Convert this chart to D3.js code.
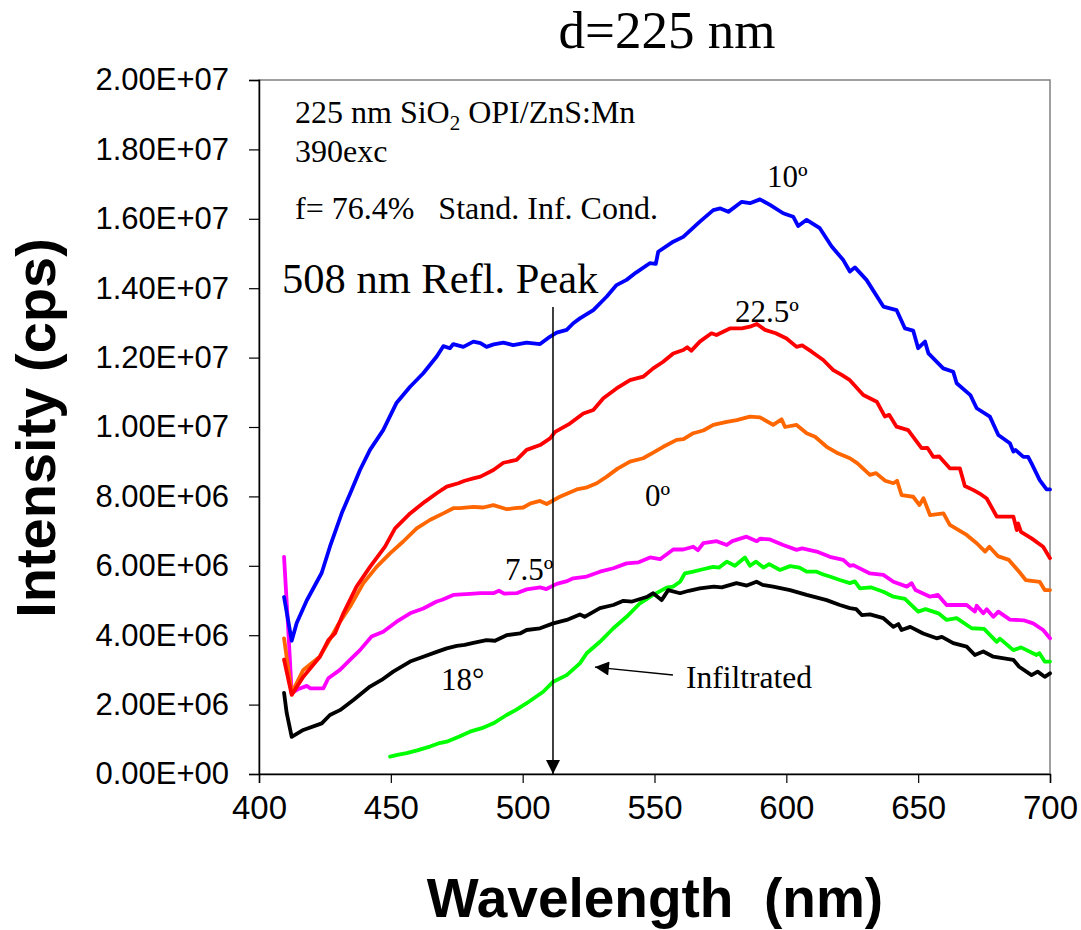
<!DOCTYPE html>
<html>
<head>
<meta charset="utf-8">
<script src="https://cdnjs.cloudflare.com/ajax/libs/d3/7.8.5/d3.min.js"></script>
<style>
  body { margin: 0; background: #fff; }
  .tick text { font-family: "Liberation Sans", Arial, sans-serif; fill: #000; }
  .serif { font-family: "Liberation Serif", "Times New Roman", serif; fill: #000; }
  .title { font-family: "Liberation Sans", Arial, sans-serif; font-weight: bold; fill: #000; }
</style>
</head>
<body>
<div id="chart"></div>
<script>
// x = wavelength (nm), y = intensity in units of 1e6 cps
var blueX  = [409.5,412.4,414.3,418.1,423.8,426.9,431.4,435.1,438.3,442.1,447.1,452.2,457.3,462.3,467.4,469.9,472.4,473.7,477.5,481.3,484,486.3,489,492.7,496.4,501.5,506.6,510.3,512.9,516.7,519.2,521.7,526.8,531.9,535.6,539.4,543,548.2,550.5,551.4,557.1,560.9,567.2,572.3,575,578,583.1,586.2,590,593.8,598.8,602.6,604.5,607.7,612.7,617.2,621.6,624.1,626,630.4,636.8,641.8,645,648.1,650,652.6,653.9,659.5,663.3,664.6,669.8,672.2,677.2,680.4,684.8,686.1,686.9,689.9,691.7,693,696.1,698.7,700];
var blueY  = [5.1,3.84,4.35,5.0,5.8,6.55,7.52,8.18,8.76,9.34,9.91,10.7,11.16,11.55,12.03,12.33,12.27,12.39,12.31,12.46,12.42,12.31,12.38,12.43,12.36,12.43,12.39,12.6,12.72,12.8,12.99,13.13,13.37,13.76,14.09,14.24,14.45,14.72,14.7,15.05,15.34,15.48,15.92,16.25,16.3,16.2,16.49,16.45,16.56,16.4,16.16,16.06,15.79,15.97,15.73,15.2,14.81,14.48,14.6,14.24,13.47,13.37,12.84,12.78,12.27,12.46,12.12,11.69,11.59,11.26,10.92,10.54,10.3,9.77,9.53,9.29,9.34,9.14,9.14,8.95,8.47,8.2,8.2];

var redX   = [409.5,412.4,416.8,423.1,426.3,428.8,432,437,442.1,447.8,451.6,457.3,463,467.4,471.2,475.6,478,481.3,484,488.9,492.7,497.7,501.5,506.6,510.4,512.3,517.9,523,526.8,530.6,535.6,540.7,545.7,549.5,553.3,557.1,560.9,562.4,564,567.2,571.6,573.5,578.6,583.1,586.2,588.8,591.9,596,600.1,603.9,606,609.6,614,617.8,621,624.1,629.2,634.3,637.4,639,641.8,646.2,651.3,653.5,655.7,658,662,665.8,667.7,671,674,676,679.8,686.1,687.4,687.9,689,693,697.4,700];
var redY   = [3.3,2.28,2.8,3.38,3.86,4.05,4.63,5.4,5.97,6.55,7.08,7.51,7.85,8.09,8.28,8.38,8.45,8.52,8.57,8.76,8.97,9.05,9.34,9.48,9.67,9.86,10.1,10.39,10.49,10.83,11.11,11.35,11.45,11.69,11.88,12.12,12.22,12.3,12.2,12.46,12.7,12.65,12.84,12.84,12.89,12.97,12.8,12.7,12.55,12.31,12.35,12.17,11.93,11.64,11.5,11.35,10.92,10.73,10.3,10.35,10.01,9.91,9.39,9.4,9.14,9.15,8.81,8.81,8.3,8.18,8.05,7.94,7.42,7.42,7.03,7.22,6.98,6.79,6.55,6.22];

var orangeX = [409.5,412.4,416.8,423,426.3,430,434.5,439.6,444.6,449.7,454.7,459.8,464.8,469.9,473.7,476.2,481.3,485,488.9,494,497,500.2,503,506.6,509.1,514.1,520.5,524,528.1,531.9,536,540.7,545.7,549.5,553.3,558.4,561,564.7,568.5,572.3,577.4,581.2,586.2,590,595,598.2,599.5,603.9,607.7,610.9,615.3,619.1,624.1,627,631.7,634,637.5,640.6,642,643.7,648.1,650.5,652,654.5,659.6,662,668.4,672.2,675.4,677,680.2,684.4,688.3,690.8,696.1,698,700];
var orangeY = [3.91,2.33,3.0,3.38,3.8,4.3,4.82,5.5,5.97,6.36,6.7,7.08,7.32,7.51,7.66,7.66,7.7,7.68,7.75,7.63,7.66,7.68,7.8,7.87,7.78,7.99,8.2,8.25,8.38,8.57,8.8,9.0,9.1,9.26,9.43,9.63,9.65,9.82,9.9,10.06,10.15,10.2,10.3,10.28,10.06,10.22,10.0,10.06,9.82,9.72,9.43,9.26,9.1,8.95,8.62,8.67,8.45,8.38,8.45,8.04,7.99,7.75,7.95,7.46,7.51,7.18,6.89,6.65,6.41,6.55,6.28,6.17,5.83,5.59,5.54,5.3,5.3];

var magentaX = [409.5,411,412.4,415,418.1,419.5,424.4,426.3,430.7,434.5,438.3,442.7,447.1,452.2,457.3,462.3,467.4,469.5,473.7,480,484,488.9,491,493,497.7,501.5,506.6,509,512.9,516.5,519.2,524.3,529.3,534.4,539.4,544,548.3,552.1,557.1,560.9,564.7,566.5,568.5,573.6,577.4,579.5,584.9,588.8,590,593.8,598.8,603.9,606,611.5,616.5,621.6,624.1,625.4,631.7,636.8,640.6,645.7,647.5,649,654.5,657.5,660.8,668.4,671.5,672.2,674.7,676,678.5,680.4,684.8,690,693.6,697.4,700];
var magentaY = [6.26,4.3,2.33,2.45,2.54,2.47,2.47,2.76,3.0,3.29,3.57,3.96,4.1,4.39,4.63,4.77,4.97,5.02,5.16,5.19,5.21,5.21,5.28,5.2,5.21,5.32,5.38,5.33,5.48,5.55,5.64,5.69,5.83,5.93,6.07,6.1,6.24,6.19,6.47,6.47,6.55,6.45,6.65,6.71,6.6,6.71,6.84,6.71,6.78,6.76,6.6,6.46,6.5,6.41,6.26,6.17,6.0,6.02,5.78,5.74,5.54,5.4,5.5,5.3,5.11,5.16,4.87,4.87,4.68,4.85,4.63,4.75,4.53,4.68,4.45,4.43,4.34,4.15,3.91];

var blackX = [409.5,410.5,412.4,416.8,423.8,426.9,430.7,435.8,442.1,446.5,450.9,457.3,462.3,467.4,471.2,475,478,481.3,486.3,489.5,493.9,499,501.5,506.6,511.6,516.7,521.7,523.5,529.3,534.4,538.2,541.5,547,549.5,552.7,555.2,559.7,563,567.2,572.5,575.5,581.1,585,588.7,591,595,601.4,607.7,615.3,620.3,624.1,626.5,628.6,631.7,636.8,640.6,642.5,643.7,647,651.9,657,659,663.3,668.4,671.5,674.7,678.5,686.1,688.3,693,695.3,698,700];
var blackY = [2.34,1.76,1.07,1.27,1.46,1.7,1.84,2.13,2.52,2.71,2.95,3.24,3.38,3.52,3.62,3.69,3.72,3.78,3.86,3.84,4.0,4.05,4.15,4.2,4.34,4.44,4.6,4.53,4.78,4.87,4.99,4.97,5.1,5.21,5.01,5.3,5.21,5.28,5.35,5.4,5.38,5.5,5.43,5.54,5.45,5.4,5.3,5.16,5.01,4.87,4.78,4.75,4.58,4.6,4.49,4.24,4.32,4.15,4.24,4.05,3.91,3.95,3.77,3.67,3.43,3.53,3.38,3.29,3.09,2.85,2.95,2.8,2.9];

var greenX = [449.7,452.5,456,460,464.8,468,471.2,476,480,484.5,488.9,493.9,497.5,501.5,507.8,511.6,516.7,521.7,524.3,529.3,534.4,539.4,544.5,549.5,554.6,557,559.7,561.5,564.7,567.2,571,572.3,574.5,577.4,580.5,584.3,586.2,588.5,591.3,593.5,597.6,601.4,605,607.7,611.5,614,616.5,620.3,624.1,626,627.9,632,636.8,640.6,645,650,652.8,657.7,660.8,664.6,670.3,675,679.8,681,686.1,689,694.9,696,698,700];
var greenY = [0.5,0.55,0.6,0.68,0.79,0.88,0.93,1.08,1.22,1.32,1.46,1.7,1.85,2.04,2.37,2.66,2.85,3.19,3.48,3.81,4.2,4.53,4.92,5.16,5.37,5.4,5.54,5.78,5.83,5.88,5.95,5.97,5.95,6.12,6.0,6.24,6.0,6.12,5.95,6.05,5.88,5.99,5.95,5.83,5.83,5.75,5.69,5.59,5.5,5.55,5.35,5.38,5.25,5.11,5.05,4.68,4.75,4.63,4.44,4.49,4.2,4.18,3.81,3.9,3.57,3.65,3.43,3.48,3.24,3.24];

var yTicks = [0,2e6,4e6,6e6,8e6,1e7,1.2e7,1.4e7,1.6e7,1.8e7,2e7];
var xTicks = [400,450,500,550,600,650,700];

var width = 1081, height = 930;
// note: "top" clashes with window.top, so plot edges get their own names
var plotL = 259, plotR = 1050, plotT = 80, plotB = 774;

var svg = d3.select('#chart').append('svg')
    .attr('width', width)
    .attr('height', height);

svg.append('rect').attr('width', width).attr('height', height).attr('fill', '#fff');

var x = d3.scaleLinear().domain([400, 700]).range([plotL, plotR]);
var y = d3.scaleLinear().domain([0, 2e7]).range([plotB, plotT]);

// plot area frame (grey like the excel one)
svg.append('rect')
    .attr('x', plotL).attr('y', plotT)
    .attr('width', plotR - plotL).attr('height', plotB - plotT)
    .attr('fill', 'none').attr('stroke', '#808080').attr('stroke-width', 1.5);

// format like excel: 2.00E+07
var sci = function(v){
    if (v === 0) return '0.00E+00';
    var e = Math.floor(Math.log10(v) + 1e-9);
    var m = v / Math.pow(10, e);
    return m.toFixed(2) + 'E+' + (e < 10 ? '0' + e : e);
};

var yAxis = svg.append('g')
    .attr('transform', 'translate(' + plotL + ',0)')
    .call(d3.axisLeft(y).tickValues(yTicks).tickFormat(sci).tickSizeOuter(0).tickSize(10).tickPadding(20));
yAxis.selectAll('.tick text').style('font-size', '31px');

var xAxis = svg.append('g')
    .attr('transform', 'translate(0,' + plotB + ')')
    .call(d3.axisBottom(x).tickValues(xTicks).tickFormat(d3.format('d')).tickSizeOuter(0).tickSize(9).tickPadding(13));
xAxis.selectAll('.tick text').style('font-size', '33px');

svg.selectAll('.domain').attr('stroke', '#000').attr('stroke-width', 1.5);
svg.selectAll('.tick line').attr('stroke', '#000').attr('stroke-width', 1.2);

// series, drawn back to front
var series = [
    {xs: greenX, ys: greenY, color: '#00FF00'},
    {xs: blackX, ys: blackY, color: '#000000'},
    {xs: magentaX, ys: magentaY, color: '#FF00FF'},
    {xs: orangeX, ys: orangeY, color: '#FF6600'},
    {xs: redX, ys: redY, color: '#FF0000'},
    {xs: blueX, ys: blueY, color: '#0000FF'}
];

var line = d3.line()
    .x(function(d){ return x(d[0]); })
    .y(function(d){ return y(d[1] * 1e6); });

series.forEach(function(s){
    var pts = s.xs.map(function(v, j){ return [v, s.ys[j]]; });
    svg.append('path')
        .datum(pts)
        .attr('d', line)
        .attr('fill', 'none')
        .attr('stroke', s.color)
        .attr('stroke-width', 3.8)
        .attr('stroke-linejoin', 'round')
        .attr('stroke-linecap', 'round');
});

// arrow heads
svg.append('defs').append('marker')
    .attr('id', 'head')
    .attr('viewBox', '0 0 10 10')
    .attr('refX', 10).attr('refY', 5)
    .attr('markerWidth', 16).attr('markerHeight', 14)
    .attr('markerUnits', 'userSpaceOnUse')
    .attr('orient', 'auto')
    .append('path').attr('d', 'M0,0 L10,5 L0,10 Z').attr('fill', '#000');

// 508 nm reflection peak marker
var peakX = 511.5;
svg.append('line')
    .attr('x1', x(peakX)).attr('x2', x(peakX))
    .attr('y1', y(1.346e7)).attr('y2', y(0))
    .attr('stroke', '#000').attr('stroke-width', 1.5)
    .attr('marker-end', 'url(#head)');

// infiltrated arrow
svg.append('line')
    .attr('x1', x(557)).attr('y1', y(2.85e6))
    .attr('x2', x(527.4)).attr('y2', y(3.08e6))
    .attr('stroke', '#000').attr('stroke-width', 1.5)
    .attr('marker-end', 'url(#head)');

// texts
var txt = function(s, tx, ty, size){
    return svg.append('text').attr('class', 'serif')
        .attr('x', tx).attr('y', ty)
        .style('font-size', size + 'px')
        .style('white-space', 'pre')
        .text(s);
};

txt('d=225 nm', 667, 48, 53).attr('text-anchor', 'middle');

var t1 = svg.append('text').attr('class', 'serif')
    .attr('x', 295).attr('y', 123).style('font-size', '32px');
t1.append('tspan').text('225 nm SiO');
t1.append('tspan').attr('dy', 7).style('font-size', '21px').text('2');
t1.append('tspan').attr('dy', -7).text(' OPI/ZnS:Mn');

txt('390exc', 295, 162, 32);
txt('f= 76.4%   Stand. Inf. Cond.', 295, 219, 32);
txt('508 nm Refl. Peak', 282, 293, 42.5);

txt('10º', 767, 187, 31);
txt('22.5º', 735, 322, 31);
txt('0º', 645, 506, 31);
txt('7.5º', 505, 580, 31);
txt('18°', 441, 690, 31);
txt('Infiltrated', 686, 688, 31.5);

// axis titles
svg.append('text').attr('class', 'title')
    .attr('transform', 'translate(55,428) rotate(-90)')
    .attr('text-anchor', 'middle')
    .style('font-size', '56px')
    .text('Intensity (cps)');

svg.append('text').attr('class', 'title')
    .attr('x', 655).attr('y', 917)
    .attr('text-anchor', 'middle')
    .style('font-size', '55px')
    .style('white-space', 'pre')
    .text('Wavelength  (nm)');
</script>
</body>
</html>
